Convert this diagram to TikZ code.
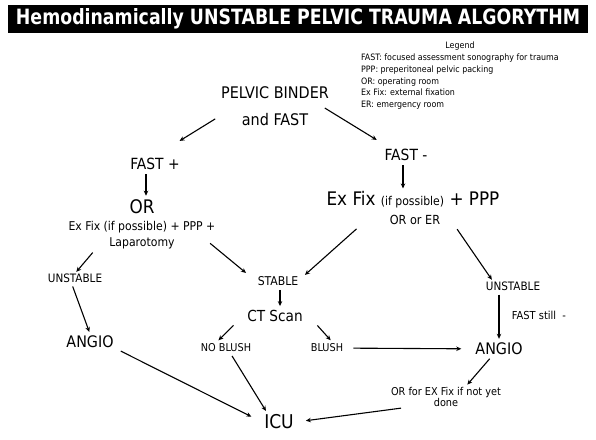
\documentclass[tikz,border=0pt]{standalone}
\usepackage{fontspec}
\setmainfont{DejaVu Sans Condensed}
\newfontfamily\titlefont{DejaVu Sans}
\usepackage{graphicx}
\usetikzlibrary{arrows.meta}

\newcommand{\fs}[1]{\fontsize{#1}{1.2\dimexpr#1pt\relax}\selectfont}

\begin{document}
\begin{tikzpicture}[
x=1pt, y=-1pt,
txt/.style={inner sep=2pt, align=center},
arrow/.style={
-{Stealth[length=5pt,width=4.5pt]},
line width=1.1pt,
shorten <=2pt,
shorten >=2pt
}
]
\useasboundingbox (0,0) rectangle (596,439);

% title bar
\node[fill=black, text=white, minimum width=580pt, minimum height=28pt, inner sep=0pt] (title) at (298,19)
{\resizebox{564pt}{16pt}{\titlefont\bfseries Hemodinamically UNSTABLE PELVIC TRAUMA ALGORYTHM}};

% legend
\node[txt, anchor=north west, inner sep=0pt, font=\fs{8.8}] (legend) at (361,40)
{\renewcommand{\arraystretch}{1.1}%
\begin{tabular}{@{}l@{}}
\multicolumn{1}{c}{Legend}\\[1pt]
FAST: focused assessment sonography for trauma\\
PPP: preperitoneal pelvic packing\\
OR: operating room\\
Ex Fix: external fixation\\
ER: emergency room
\end{tabular}};

% main flow
\node[txt, font=\fs{16}] (pb) at (275,106) {PELVIC BINDER\\[8pt] and FAST};
\node[txt, font=\fs{15.4}] (fastp) at (155,164) {FAST +};
\node[txt, font=\fs{18.7}] (orl) at (142,207) {OR};
\node[txt, font=\fs{12.1}, inner sep=1pt] (exl) at (142,235) {Ex Fix (if possible) + PPP +\\[1.5pt] Laparotomy};
\node[txt, font=\fs{11.6}] (unl) at (75,278) {UNSTABLE};
\node[txt, font=\fs{15.9}] (angl) at (90,342) {ANGIO};

\node[txt, font=\fs{15.4}] (fastm) at (406,155) {FAST -};
\node[txt, font=\fs{18.7}, inner sep=1pt] (exr) at (413,200) {Ex Fix {\fs{12.1}(if possible)} + PPP};
\node[txt, font=\fs{12.5}, inner sep=1pt] (orr) at (415,220) {OR or ER};
\node[txt, font=\fs{12.1}] (stable) at (278,281) {STABLE};
\node[txt, font=\fs{15.2}] (ct) at (275,316) {CT Scan};
\node[txt, font=\fs{10.8}] (nob) at (226,348) {NO BLUSH};
\node[txt, font=\fs{10.8}] (blush) at (327,348) {BLUSH};
\node[txt, font=\fs{11.6}] (unr) at (513,286) {UNSTABLE};
\node[txt, font=\fs{11}] (still) at (539,315) {FAST still\ \ -};
\node[txt, font=\fs{15.9}] (angr) at (499,349) {ANGIO};
\node[txt, font=\fs{10.8}, inner sep=1pt] (orfix) at (446,397) {OR for EX Fix if not yet\\[-2pt] done};
\node[txt, font=\fs{19}] (icu) at (279,422) {ICU};

% connectors
\draw[arrow] ([xshift=-2pt,yshift=10pt]pb.south west) -- ([xshift=-4pt,yshift=14pt]fastp.north east);
\draw[arrow] ([xshift=-8pt,yshift=-1pt]pb.east) -- ([xshift=-4pt,yshift=6pt]fastm.north west);
\draw[arrow] ([xshift=4pt]fastp.south -| orl.north) -- ([xshift=4pt]orl.north);
\draw[arrow] ([xshift=-3pt]fastm.south) -- ([xshift=-3pt]fastm.south |- exr.north);
\draw[arrow] ([xshift=-48pt,yshift=-1pt]exl.south) -- ([yshift=-2pt]unl.north);
\draw[arrow] ([xshift=-8pt,yshift=8pt]exl.north east |- exl.south) -- ([xshift=-8pt]stable.north west);
\draw[arrow] ([xshift=-55pt,yshift=-18pt]exr.south) -- ([xshift=3pt,yshift=-2pt]stable.north east);
\draw[arrow] ([xshift=43pt,yshift=-18pt]exr.south) -- ([xshift=-20pt,yshift=-2pt]unr.north);
\draw[arrow] ([xshift=-3pt]unl.south) -- (angl.north);
\draw[arrow] ([xshift=2pt]stable.south) -- ([xshift=2pt]stable.south |- ct.north);
\draw[arrow] ([xshift=-40pt]ct.south) -- ([xshift=-9pt]nob.north);
\draw[arrow] ([xshift=41pt]ct.south) -- ([xshift=5pt]blush.north);
\draw[arrow, shorten <=8pt, shorten >=12pt] (blush) -- (angr);
\draw[arrow] (angr.north |- unr.south) -- (angr.north);
\draw[arrow] ([xshift=-8pt]angr.south) -- ([xshift=20pt]orfix.north);
\draw[arrow, shorten >=10pt] ([xshift=-43pt]orfix.south) -- (icu.east);
\draw[arrow, shorten >=12pt] ([xshift=29pt]angl.south) -- (icu.west);
\draw[arrow] ([xshift=5pt]nob.south) -- ([xshift=-12pt]icu.north);

\end{tikzpicture}
\end{document}
